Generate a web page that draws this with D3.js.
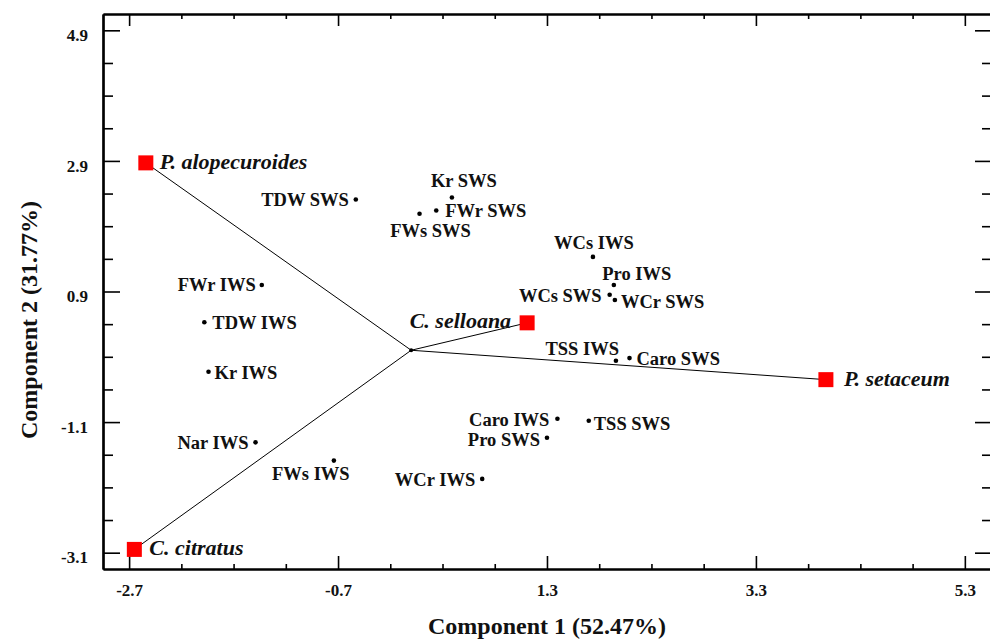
<!DOCTYPE html>
<html>
<head>
<meta charset="utf-8">
<script src="https://cdn.jsdelivr.net/npm/d3@7"></script>
<style>
  body { margin: 0; background: #fff; }
  svg text { font-family: "Liberation Serif", "Times New Roman", serif; font-weight: bold; fill: #111; }
  .axis path, .axis line { stroke: #000; }
</style>
</head>
<body>
<div class="chart"></div>
<script>
// PCA biplot: component scores of the four species and the variables

var species = ["P. alopecuroides", "C. citratus", "C. selloana", "P. setaceum"];
var speciesPC1 = [-2.54, -2.65, 1.11, 3.97];
var speciesPC2 = [2.87, -3.05, 0.42, -0.45];

var variables = ["Kr SWS", "FWr SWS", "FWs SWS", "TDW SWS", "WCs IWS", "Pro IWS",
    "WCs SWS", "WCr SWS", "TSS IWS", "Caro SWS", "Caro IWS", "TSS SWS",
    "Pro SWS", "WCr IWS", "FWs IWS", "Nar IWS", "Kr IWS", "TDW IWS", "FWr IWS"];
var variablesPC1 = [0.39, 0.24, 0.08, -0.53, 1.74, 1.94, 1.90, 1.95, 1.96, 2.09,
    1.40, 1.70, 1.30, 0.68, -0.74, -1.49, -1.94, -1.98, -1.43];
var variablesPC2 = [2.34, 2.14, 2.09, 2.31, 1.43, 1.00, 0.85, 0.77, -0.16, -0.12,
    -1.05, -1.08, -1.34, -1.97, -1.69, -1.41, -0.33, 0.43, 1.00];

var xTicks = [-2.7, -0.7, 1.3, 3.3, 5.3];
var yTicks = [4.9, 2.9, 0.9, -1.1, -3.1];

var xLabel = "Component 1 (52.47%)";
var yLabel = "Component 2 (31.77%)";

// label placement next to each mark: [dx, dy, anchor]
var varPlace = {
    "Kr SWS": [12, -10, "middle"], "FWr SWS": [9, 6, "start"], "FWs SWS": [11, 23, "middle"],
    "TDW SWS": [-7, 7, "end"], "WCs IWS": [1, -8, "middle"], "Pro IWS": [23, -5, "middle"],
    "WCs SWS": [-8, 7, "end"], "WCr SWS": [6, 8, "start"], "TSS IWS": [3, -6, "end"],
    "Caro SWS": [7, 7, "start"], "Caro IWS": [-8, 7, "end"], "TSS SWS": [5, 9, "start"],
    "Pro SWS": [-7, 8, "end"], "WCr IWS": [-7, 7, "end"], "FWs IWS": [-23, 19, "middle"],
    "Nar IWS": [-7, 7, "end"], "Kr IWS": [6, 7, "start"], "TDW IWS": [8, 7, "start"],
    "FWr IWS": [-6, 6, "end"]
};
var spPlace = {
    "P. alopecuroides": [14, 6, "start"], "C. citratus": [15, 6, "start"],
    "C. selloana": [-16, 5, "end"], "P. setaceum": [18, 6, "start"]
};

var svgWidth = 990;
var svgHeight = 640;
var margin = { top: 14, right: -2, bottom: 71, left: 103 };
var width = svgWidth - margin.left - margin.right;
var height = svgHeight - margin.top - margin.bottom;

var svg = d3.select(".chart")
    .append("svg")
    .attr("width", svgWidth)
    .attr("height", svgHeight);

var chartGroup = svg.append("g")
    .attr("transform", `translate(${margin.left}, ${margin.top})`);

var xScale = d3.scaleLinear().domain([-2.95, 5.56]).range([0, width]);
var yScale = d3.scaleLinear().domain([-3.35, 5.15]).range([height, 0]);

var xMinor = d3.range(0, 18).map(i => +(-2.7 + i * 0.5).toFixed(1)).filter(v => xTicks.indexOf(v) < 0);
var yMinor = d3.range(0, 17).map(i => +(-3.1 + i * 0.5).toFixed(1)).filter(v => yTicks.indexOf(v) < 0);

// plain hyphen for negatives, like the original
var fmt = d => d.toFixed(1);

// bottom axis
chartGroup.append("g").attr("class", "axis")
    .attr("transform", `translate(0, ${height})`)
    .call(d3.axisBottom(xScale).tickValues(xMinor).tickSize(-5).tickSizeOuter(0).tickFormat(""));
chartGroup.append("g").attr("class", "axis")
    .attr("transform", `translate(0, ${height})`)
    .call(d3.axisBottom(xScale).tickValues(xTicks).tickSize(-13).tickSizeOuter(0)
        .tickPadding(15).tickFormat(fmt));

// top axis
chartGroup.append("g").attr("class", "axis")
    .call(d3.axisTop(xScale).tickValues(xMinor).tickSize(-5).tickSizeOuter(0).tickFormat(""));
chartGroup.append("g").attr("class", "axis")
    .call(d3.axisTop(xScale).tickValues(xTicks).tickSize(-12).tickSizeOuter(0).tickFormat(""));

// left axis
chartGroup.append("g").attr("class", "axis")
    .call(d3.axisLeft(yScale).tickValues(yMinor).tickSize(-10).tickSizeOuter(0).tickFormat(""));
var leftMajor = chartGroup.append("g").attr("class", "axis")
    .call(d3.axisLeft(yScale).tickValues(yTicks).tickSize(-17).tickSizeOuter(0)
        .tickPadding(15).tickFormat(fmt));

// right axis
chartGroup.append("g").attr("class", "axis")
    .attr("transform", `translate(${width}, 0)`)
    .call(d3.axisRight(yScale).tickValues(yMinor).tickSize(-10).tickSizeOuter(0).tickFormat(""));
chartGroup.append("g").attr("class", "axis")
    .attr("transform", `translate(${width}, 0)`)
    .call(d3.axisRight(yScale).tickValues(yTicks).tickSize(-17).tickSizeOuter(0).tickFormat(""));

chartGroup.selectAll(".axis path").attr("stroke-width", 2.2);
chartGroup.selectAll(".axis line").attr("stroke-width", 1.6);
chartGroup.selectAll(".axis text")
    .style("font-family", "'Liberation Serif', serif")
    .style("font-weight", "bold")
    .style("font-size", "17px")
    .attr("fill", "#111");
leftMajor.selectAll("text").attr("dy", "0.6em");

// vectors from the origin to each species
var speciesData = species.map((s, i) => ({ name: s, x: speciesPC1[i], y: speciesPC2[i] }));
var varData = variables.map((v, i) => ({ name: v, x: variablesPC1[i], y: variablesPC2[i] }));

chartGroup.selectAll(".vector")
    .data(speciesData)
    .enter()
    .append("line")
    .attr("x1", xScale(0))
    .attr("y1", yScale(0))
    .attr("x2", d => xScale(d.x))
    .attr("y2", d => yScale(d.y))
    .attr("stroke", "#000")
    .attr("stroke-width", 1);

chartGroup.append("circle")
    .attr("cx", xScale(0))
    .attr("cy", yScale(0))
    .attr("r", 2)
    .attr("fill", "#000");

// variable points
chartGroup.selectAll(".vpt")
    .data(varData)
    .enter()
    .append("circle")
    .attr("cx", d => xScale(d.x))
    .attr("cy", d => yScale(d.y))
    .attr("r", 2.3)
    .attr("fill", "#000");

chartGroup.selectAll(".vlabel")
    .data(varData)
    .enter()
    .append("text")
    .attr("x", d => xScale(d.x) + varPlace[d.name][0])
    .attr("y", d => yScale(d.y) + varPlace[d.name][1])
    .attr("text-anchor", d => varPlace[d.name][2])
    .style("font-size", "18.5px")
    .text(d => d.name);

// species squares
var sq = 15;
chartGroup.selectAll(".sp")
    .data(speciesData)
    .enter()
    .append("rect")
    .attr("x", d => xScale(d.x) - sq / 2)
    .attr("y", d => yScale(d.y) - sq / 2)
    .attr("width", sq)
    .attr("height", sq)
    .attr("fill", "#ff0000");

chartGroup.selectAll(".splabel")
    .data(speciesData)
    .enter()
    .append("text")
    .attr("x", d => xScale(d.x) + spPlace[d.name][0])
    .attr("y", d => yScale(d.y) + spPlace[d.name][1])
    .attr("text-anchor", d => spPlace[d.name][2])
    .style("font-size", "22px")
    .style("font-style", "italic")
    .text(d => d.name);

// axis titles
svg.append("text")
    .attr("x", 547)
    .attr("y", 634)
    .attr("text-anchor", "middle")
    .style("font-size", "24px")
    .text(xLabel);

svg.append("text")
    .attr("transform", "translate(37, 320) rotate(-90)")
    .attr("text-anchor", "middle")
    .style("font-size", "24px")
    .text(yLabel);
</script>
</body>
</html>
